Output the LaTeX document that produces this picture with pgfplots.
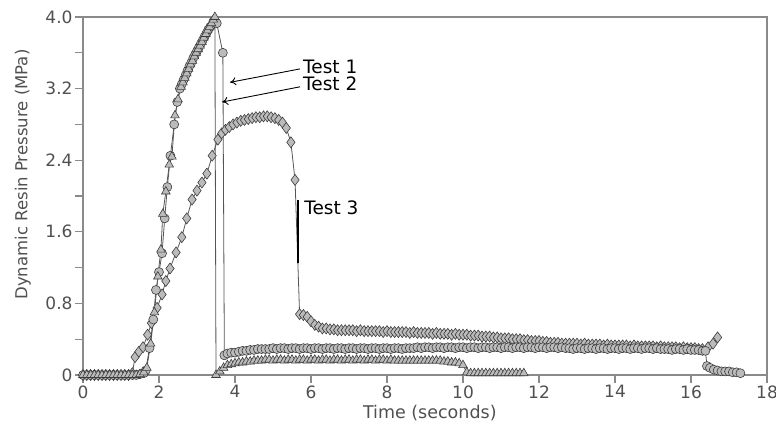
\documentclass[border=0pt]{standalone}
\usepackage{fontspec}
\setmainfont{DejaVu Sans}
\usepackage{pgfplots}
\pgfplotsset{compat=1.18}
\usetikzlibrary{arrows.meta}
\definecolor{axgray}{HTML}{8A8A8A}
\definecolor{txtgray}{HTML}{505050}
\definecolor{mkfill}{HTML}{BBBBBB}
\definecolor{mkedge}{HTML}{3C3C3C}
\definecolor{lngray}{HTML}{555555}
\begin{document}
\begin{tikzpicture}
\path[use as bounding box] (0,0) rectangle (776bp,428bp);
\begin{axis}[
  at={(83bp,53bp)}, anchor=south west,
  scale only axis, width=684bp, height=358bp,
  xmin=0, xmax=18, ymin=0, ymax=4,
  clip=false,
  axis line style={axgray, line width=1.2bp},
  xtick={0,2,...,18},
  ytick={0,0.4,...,4.01},
  yticklabels={0,,0.8,,1.6,,2.4,,3.2,,4.0},
  tick align=outside,
  xtick pos=left, ytick pos=left,
  major tick length=8bp,
  tick style={axgray, line width=1.2bp},
  /pgf/number format/assume math mode=true,
  ticklabel style={font=\fontsize{17bp}{20bp}\selectfont, text=txtgray},
  xticklabel style={yshift=1bp},
  yticklabel style={xshift=1bp},
  label style={font=\fontsize{16.5bp}{19bp}\selectfont, text=txtgray},
  xlabel={Time (seconds)},
  ylabel={Dynamic Resin Pressure (MPa)},
  xlabel style={at={(axis description cs:0.507,-0.106)}, anchor=center, font=\fontsize{17.5bp}{20bp}\selectfont},
  ylabel style={at={(axis description cs:-0.088,0.56)}, anchor=center},
  every axis plot/.append style={lngray, line width=0.8bp, mark options={solid, draw=mkedge, fill=mkfill, line width=0.6bp}},
]
% Test 3 (diamonds)
\addplot[mark=diamond*, mark size=5.5bp] coordinates {
(0,0)(0.1,0)(0.2,0)(0.3,0)(0.4,0)(0.5,0)(0.6,0)(0.7,0)(0.8,0)(0.9,0)(1.0,0)(1.1,0)(1.2,0)(1.3,0.02)(1.37,0.2)(1.47,0.26)(1.58,0.31)(1.7,0.45)(1.8,0.58)(1.95,0.75)(2.08,0.9)(2.18,1.05)(2.29,1.19)(2.45,1.37)(2.6,1.54)(2.73,1.75)(2.87,1.96)(3.0,2.06)(3.13,2.15)(3.26,2.25)(3.4,2.45)(3.55,2.63)(3.65,2.7)(3.75,2.74)(3.85,2.77)(3.95,2.8)(4.05,2.82)(4.15,2.84)(4.25,2.85)(4.35,2.86)(4.45,2.87)(4.55,2.88)(4.65,2.88)(4.75,2.89)(4.85,2.89)(4.95,2.88)(5.05,2.87)(5.15,2.85)(5.25,2.82)(5.35,2.76)(5.47,2.6)(5.58,2.18)(5.7,0.68)
(5.8,0.67)(5.9,0.65)(6.0,0.6)(6.1,0.56)(6.2,0.54)(6.3,0.52)(6.4,0.52)
(6.5,.51)(6.6,.51)(6.7,.50)(6.8,.50)(6.9,.50)(7.0,.50)(7.1,.50)(7.2,.49)(7.3,.50)(7.4,.49)(7.5,.49)(7.6,.49)(7.7,.49)(7.8,.49)(7.9,.48)(8.0,.49)(8.1,.48)(8.2,.48)(8.3,.48)(8.4,.48)(8.5,.48)(8.6,.47)(8.7,.48)(8.8,.47)(8.9,.47)(9.0,.47)(9.1,.47)(9.2,.46)(9.3,.47)(9.4,.46)(9.5,.46)(9.6,.46)(9.7,.45)(9.8,.46)(9.9,.45)(10.0,.45)(10.1,.45)(10.2,.44)(10.3,.44)(10.4,.44)(10.5,.43)(10.6,.43)(10.7,.43)(10.8,.42)(10.9,.42)(11.0,.41)(11.1,.41)(11.2,.41)(11.3,.40)(11.4,.40)(11.5,.40)(11.6,.39)(11.7,.39)(11.8,.38)(11.9,.38)(12.0,.38)(12.1,.37)(12.2,.37)(12.3,.36)(12.4,.36)(12.5,.36)(12.6,.35)(12.7,.35)(12.8,.35)(12.9,.35)(13.0,.35)(13.1,.34)(13.2,.35)(13.3,.34)(13.4,.34)(13.5,.34)(13.6,.34)(13.7,.33)(13.8,.34)(13.9,.33)(14.0,.33)(14.1,.33)(14.2,.33)(14.3,.33)(14.4,.32)(14.5,.33)(14.6,.32)(14.7,.32)(14.8,.32)(14.9,.32)(15.0,.32)(15.1,.31)(15.2,.32)(15.3,.31)(15.4,.31)(15.5,.31)(15.6,.31)(15.7,.30)(15.8,.31)(15.9,.30)(16.0,.30)(16.1,.30)(16.2,.29)(16.3,.29)(16.45,0.31)(16.58,0.35)(16.7,0.42)
};
% Test 1 (circles)
\addplot[mark=*, mark size=4.5bp] coordinates {
(0,0)(0.1,0)(0.2,0)(0.3,0)(0.4,0)(0.5,0)(0.6,0)(0.7,0)(0.8,0)(0.9,0)(1.0,0)(1.1,0)(1.2,0)(1.3,0)(1.4,0)(1.5,0.01)(1.6,0.02)(1.65,0.05)(1.75,0.3)(1.85,0.62)(1.92,0.95)(2.0,1.15)(2.08,1.36)(2.15,1.75)(2.22,2.1)(2.3,2.45)(2.4,2.8)(2.48,3.05)(2.55,3.2)(2.6,3.25)(2.65,3.3)(2.7,3.35)(2.75,3.4)(2.8,3.45)(2.85,3.49)(2.9,3.54)(2.95,3.58)(3.0,3.62)(3.05,3.66)(3.1,3.7)(3.15,3.74)(3.2,3.78)(3.25,3.82)(3.3,3.86)(3.35,3.89)(3.43,3.95)(3.52,3.93)(3.68,3.6)(3.72,0.22)
(3.8,.24)(3.9,.25)(4.0,.25)(4.1,.26)(4.2,.27)(4.3,.27)(4.4,.28)(4.5,.28)(4.6,.29)(4.7,.29)(4.8,.29)(4.9,.29)(5.0,.30)(5.1,.29)(5.2,.30)(5.3,.30)(5.4,.29)(5.5,.30)(5.6,.30)(5.7,.29)(5.8,.30)(5.9,.30)(6.0,.29)(6.1,.30)(6.2,.30)(6.3,.29)(6.4,.30)(6.5,.30)(6.6,.29)(6.7,.30)(6.8,.30)(6.9,.29)(7.0,.30)(7.1,.30)(7.2,.29)(7.3,.30)(7.4,.30)(7.5,.29)(7.6,.30)(7.7,.30)(7.8,.29)(7.9,.30)(8.0,.30)(8.1,.29)(8.2,.30)(8.3,.30)(8.4,.29)(8.5,.30)(8.6,.30)(8.7,.30)(8.8,.31)(8.9,.30)(9.0,.31)(9.1,.31)(9.2,.30)(9.3,.31)(9.4,.31)(9.5,.30)(9.6,.31)(9.7,.31)(9.8,.30)(9.9,.31)(10.0,.31)(10.1,.30)(10.2,.31)(10.3,.31)(10.4,.30)(10.5,.31)(10.6,.31)(10.7,.30)(10.8,.31)(10.9,.31)(11.0,.30)(11.1,.31)(11.2,.31)(11.3,.30)(11.4,.31)(11.5,.31)(11.6,.30)(11.7,.31)(11.8,.31)(11.9,.30)(12.0,.31)(12.1,.31)(12.2,.30)(12.3,.31)(12.4,.31)(12.5,.30)(12.6,.31)(12.7,.30)(12.8,.30)(12.9,.29)(13.0,.30)(13.1,.30)(13.2,.29)(13.3,.30)(13.4,.30)(13.5,.29)(13.6,.30)(13.7,.30)(13.8,.29)(13.9,.30)(14.0,.30)(14.1,.29)(14.2,.30)(14.3,.30)(14.4,.29)(14.5,.30)(14.6,.30)(14.7,.29)(14.8,.30)(14.9,.30)(15.0,.29)(15.1,.30)(15.2,.29)(15.3,.29)(15.4,.29)(15.5,.28)(15.6,.29)(15.7,.29)(15.8,.28)(15.9,.29)(16.0,.28)(16.1,.28)(16.2,.28)(16.3,.27)(16.38,0.27)(16.42,0.1)(16.5,0.08)(16.6,0.06)(16.7,0.05)(16.8,0.04)(16.9,0.04)(17.0,0.04)(17.1,0.03)(17.2,0.03)(17.3,0.02)
};
% Test 2 (triangles)
\addplot[mark=triangle*, mark size=5bp] coordinates {
(0,0)(0.1,0)(0.2,0)(0.3,0)(0.4,0)(0.5,0)(0.6,0)(0.7,0)(0.8,0)(0.9,0)(1.0,0)(1.1,0)(1.2,0)(1.3,0)(1.4,0)(1.5,0.01)(1.6,0.03)(1.68,0.08)(1.78,0.35)(1.88,0.7)(1.97,1.1)(2.05,1.4)(2.1,1.8)(2.18,2.05)(2.27,2.35)(2.34,2.44)(2.42,2.9)(2.5,3.08)(2.58,3.22)(2.63,3.27)(2.68,3.32)(2.73,3.37)(2.78,3.42)(2.83,3.47)(2.88,3.51)(2.93,3.56)(2.98,3.6)(3.03,3.64)(3.08,3.68)(3.13,3.72)(3.18,3.77)(3.23,3.81)(3.28,3.85)(3.33,3.89)(3.38,3.93)(3.43,3.97)(3.47,4.0)(3.5,0)
(3.6,.04)(3.7,.08)(3.8,.11)(3.9,.12)(4.0,.13)(4.1,.14)(4.2,.14)(4.3,.15)(4.4,.15)(4.5,.16)(4.6,.16)(4.7,.16)(4.8,.17)(4.9,.17)(5.0,.16)(5.1,.17)(5.2,.17)(5.3,.16)(5.4,.17)(5.5,.17)(5.6,.16)(5.7,.17)(5.8,.17)(5.9,.16)(6.0,.17)(6.1,.17)(6.2,.16)(6.3,.17)(6.4,.17)(6.5,.16)(6.6,.17)(6.7,.17)(6.8,.16)(6.9,.17)(7.0,.17)(7.1,.16)(7.2,.17)(7.3,.17)(7.4,.16)(7.5,.17)(7.6,.17)(7.7,.16)(7.8,.17)(7.9,.17)(8.0,.16)(8.1,.17)(8.2,.16)(8.3,.16)(8.4,.16)(8.5,.16)(8.6,.16)(8.7,.16)(8.8,.16)(8.9,.16)(9.0,.16)(9.1,.16)(9.2,.16)(9.3,.16)(9.4,.16)(9.5,.15)(9.6,.15)(9.7,.14)(9.8,.14)(9.9,.13)(10.0,.11)(10.1,.03)(10.2,.02)(10.3,.02)(10.4,.02)(10.5,.02)(10.6,.02)(10.7,.02)(10.8,.02)(10.9,.02)(11.0,.02)(11.1,.02)(11.2,.02)(11.3,.02)(11.4,.02)(11.5,.02)(11.6,.02)
};
% annotations
\draw[black, line width=1.6bp] (axis cs:5.66,1.96) -- (axis cs:5.66,1.25);
\draw[black, line width=0.9bp, -{To[length=6bp,width=8bp]}] (axis cs:5.71,3.42) -- (axis cs:3.87,3.27);
\draw[black, line width=0.9bp, -{To[length=6bp,width=8bp]}] (axis cs:5.71,3.22) -- (axis cs:3.66,3.05);
\node[anchor=west, inner sep=0pt, font=\fontsize{18.5bp}{21bp}\selectfont] at (axis cs:5.79,3.44) {Test 1};
\node[anchor=west, inner sep=0pt, font=\fontsize{18.5bp}{21bp}\selectfont] at (axis cs:5.79,3.25) {Test 2};
\node[anchor=west, inner sep=0pt, font=\fontsize{18.5bp}{21bp}\selectfont] at (axis cs:5.82,1.87) {Test 3};
\end{axis}
\end{tikzpicture}
\end{document}
